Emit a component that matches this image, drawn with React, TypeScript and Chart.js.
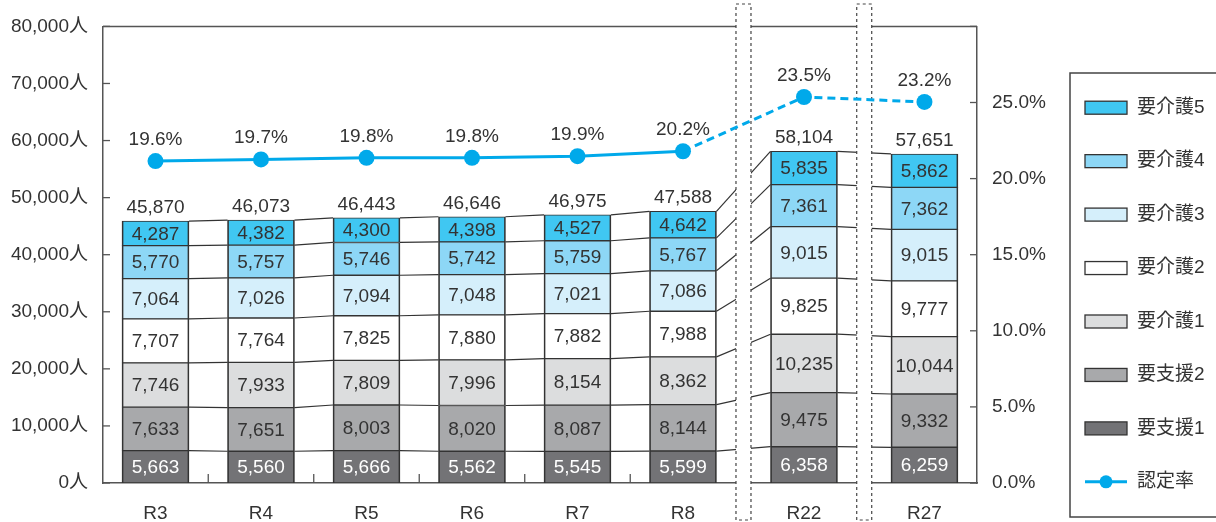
import React, { useEffect, useRef } from "react";
import { Chart, registerables } from "chart.js";

Chart.register(...registerables);

// ---- data ----
const categories = ["R3", "R4", "R5", "R6", "R7", "R8", "R22", "R27"];
const shien1 = [5663, 5560, 5666, 5562, 5545, 5599, 6358, 6259];
const shien2 = [7633, 7651, 8003, 8020, 8087, 8144, 9475, 9332];
const kaigo1 = [7746, 7933, 7809, 7996, 8154, 8362, 10235, 10044];
const kaigo2 = [7707, 7764, 7825, 7880, 7882, 7988, 9825, 9777];
const kaigo3 = [7064, 7026, 7094, 7048, 7021, 7086, 9015, 9015];
const kaigo4 = [5770, 5757, 5746, 5742, 5759, 5767, 7361, 7362];
const kaigo5 = [4287, 4382, 4300, 4398, 4527, 4642, 5835, 5862];
const totals = [45870, 46073, 46443, 46646, 46975, 47588, 58104, 57651];
const rate = [19.6, 19.7, 19.8, 19.8, 19.9, 20.2, 23.5, 23.2];
const leftTicks = [0, 10000, 20000, 30000, 40000, 50000, 60000, 70000, 80000];
const rightTicks = [0, 5, 10, 15, 20, 25, 30];

// ---- layout (slot positions on the x scale; gaps at the axis breaks) ----
const xSlots = [0, 1, 2, 3, 4, 5, 6.147, 7.289];
const breakAfter = [5, 6];

const FONT = "'Liberation Sans', 'Noto Sans CJK JP', sans-serif";
const TEXT = "#333333";
const LINE_COLOR = "#00A9EA";

const series = [
  { label: "要支援1", data: shien1, color: "#737376", text: "#ffffff" },
  { label: "要支援2", data: shien2, color: "#A8A9AB", text: TEXT },
  { label: "要介護1", data: kaigo1, color: "#DCDDDE", text: TEXT },
  { label: "要介護2", data: kaigo2, color: "#FFFFFF", text: TEXT },
  { label: "要介護3", data: kaigo3, color: "#D5EFFB", text: TEXT },
  { label: "要介護4", data: kaigo4, color: "#8DD7F6", text: TEXT },
  { label: "要介護5", data: kaigo5, color: "#40C7F2", text: TEXT },
];

const fmt = (v: number) => v.toLocaleString("en-US");

const decorPlugin = {
  id: "decor",
  beforeDatasetsDraw(chart: any) {
    const { ctx, chartArea: a } = chart;
    const yS = chart.scales.y;
    const y1S = chart.scales.y1;
    const xS = chart.scales.x;
    ctx.save();
    // top frame line
    ctx.strokeStyle = "#555";
    ctx.lineWidth = 1.5;
    ctx.beginPath();
    ctx.moveTo(a.left, a.top);
    ctx.lineTo(a.right, a.top);
    ctx.stroke();
    // inward ticks
    ctx.lineWidth = 1.3;
    leftTicks.forEach((v) => {
      const y = yS.getPixelForValue(v);
      ctx.beginPath();
      ctx.moveTo(a.left, y);
      ctx.lineTo(a.left + 7, y);
      ctx.stroke();
    });
    rightTicks.forEach((v) => {
      const y = y1S.getPixelForValue(v);
      ctx.beginPath();
      ctx.moveTo(a.right - 7, y);
      ctx.lineTo(a.right, y);
      ctx.stroke();
    });
    for (let i = 0; i < xSlots.length - 1; i++) {
      const x = (xS.getPixelForValue(xSlots[i]) + xS.getPixelForValue(xSlots[i + 1])) / 2;
      ctx.beginPath();
      ctx.moveTo(x, a.bottom);
      ctx.lineTo(x, a.bottom - 9);
      ctx.stroke();
    }
    // connecting lines between bars
    ctx.strokeStyle = "#333";
    ctx.lineWidth = 1.2;
    series.forEach((_, d) => {
      const els = chart.getDatasetMeta(d).data;
      for (let i = 0; i < els.length - 1; i++) {
        const e0 = els[i];
        const e1 = els[i + 1];
        ctx.beginPath();
        ctx.moveTo(e0.x + e0.width / 2, e0.y);
        ctx.lineTo(e1.x - e1.width / 2, e1.y);
        ctx.stroke();
      }
    });
    // axis break boxes
    breakAfter.forEach((i) => {
      const x = (xS.getPixelForValue(xSlots[i]) + xS.getPixelForValue(xSlots[i + 1])) / 2;
      const w = 15;
      ctx.fillStyle = "#ffffff";
      ctx.fillRect(x - w / 2, 4, w, 516);
      ctx.setLineDash([3, 3]);
      ctx.strokeStyle = "#444";
      ctx.lineWidth = 1.2;
      ctx.strokeRect(x - w / 2, 4, w, 516);
      ctx.setLineDash([]);
    });
    ctx.restore();
  },
  afterDatasetsDraw(chart: any) {
    const { ctx } = chart;
    ctx.save();
    ctx.font = `19px ${FONT}`;
    ctx.textAlign = "center";
    // segment labels
    series.forEach((s, d) => {
      const els = chart.getDatasetMeta(d).data;
      els.forEach((e: any, i: number) => {
        ctx.fillStyle = s.text;
        ctx.textBaseline = "middle";
        ctx.fillText(fmt(s.data[i]), e.x, (e.y + e.base) / 2 + 1);
      });
    });
    // totals
    const topEls = chart.getDatasetMeta(series.length - 1).data;
    ctx.fillStyle = TEXT;
    ctx.textBaseline = "alphabetic";
    topEls.forEach((e: any, i: number) => {
      ctx.fillText(fmt(totals[i]), e.x, e.y - 8);
    });
    // rate labels
    const pts = chart.getDatasetMeta(series.length).data;
    pts.forEach((p: any, i: number) => {
      ctx.fillText(rate[i].toFixed(1) + "%", p.x, p.y - 16);
    });
    ctx.restore();
  },
  afterDraw(chart: any) {
    const { ctx } = chart;
    ctx.save();
    // legend frame
    ctx.strokeStyle = "#444";
    ctx.lineWidth = 1.5;
    ctx.strokeRect(1070, 73, 170, 444);
    const items = [...series].reverse();
    const y0 = 107.7;
    const step = 53.45;
    ctx.font = `19px ${FONT}`;
    ctx.textBaseline = "middle";
    ctx.textAlign = "left";
    items.forEach((s, i) => {
      const y = y0 + i * step;
      ctx.fillStyle = s.color;
      ctx.fillRect(1085, y - 6.5, 42, 13);
      ctx.strokeStyle = "#333";
      ctx.lineWidth = 1.3;
      ctx.strokeRect(1085, y - 6.5, 42, 13);
      ctx.fillStyle = TEXT;
      ctx.fillText(s.label, 1137, y);
    });
    const yl = y0 + items.length * step;
    ctx.strokeStyle = LINE_COLOR;
    ctx.lineWidth = 3;
    ctx.beginPath();
    ctx.moveTo(1085, yl);
    ctx.lineTo(1127, yl);
    ctx.stroke();
    ctx.fillStyle = LINE_COLOR;
    ctx.beginPath();
    ctx.arc(1106, yl, 6.5, 0, Math.PI * 2);
    ctx.fill();
    ctx.fillStyle = TEXT;
    ctx.fillText("認定率", 1137, yl);
    ctx.restore();
  },
};

export default function App() {
  const ref = useRef<HTMLCanvasElement | null>(null);
  useEffect(() => {
    document.body.style.margin = "0";
    if (!ref.current) return;
    const barSets = series.map((s) => ({
      type: "bar" as const,
      label: s.label,
      data: categories.map((_, i) => ({ x: xSlots[i], y: s.data[i] })),
      backgroundColor: s.color,
      borderColor: "#333333",
      borderWidth: { left: 1.7, right: 1.7, top: 1, bottom: 1 },
      borderSkipped: false,
      barThickness: 67,
      yAxisID: "y",
      order: 1,
    }));
    const lineSet = {
      type: "line" as const,
      label: "認定率",
      data: categories.map((_, i) => ({ x: xSlots[i], y: rate[i] })),
      borderColor: LINE_COLOR,
      backgroundColor: LINE_COLOR,
      borderWidth: 3,
      pointRadius: 8,
      pointBorderWidth: 0,
      pointBackgroundColor: LINE_COLOR,
      yAxisID: "y2",
      order: 0,
      segment: {
        borderDash: (c: any) => (c.p0DataIndex >= 5 ? [8, 5] : undefined),
      },
    };
    const chart = new Chart(ref.current, {
      data: { datasets: [...barSets, lineSet] as any },
      options: {
        animation: false,
        responsive: false,
        devicePixelRatio: 1,
        layout: { padding: { top: 23, left: 0, right: 0, bottom: 0 } },
        plugins: { legend: { display: false }, tooltip: { enabled: false } },
        scales: {
          x: {
            type: "linear",
            stacked: true,
            offset: false,
            min: -0.4976,
            max: 7.787,
            grid: { display: false, drawTicks: false },
            border: { display: true, color: "#555", width: 1.5 },
            afterBuildTicks: (s: any) => {
              s.ticks = xSlots.map((v) => ({ value: v }));
            },
            afterFit: (s: any) => {
              s.height = 39;
            },
            ticks: {
              autoSkip: false,
              maxRotation: 0,
              padding: 19,
              color: TEXT,
              font: { family: FONT, size: 19 },
              callback: (_v: any, i: number) => categories[i],
            },
          },
          y: {
            type: "linear",
            position: "left",
            stacked: true,
            min: 0,
            max: 80000,
            grid: { display: false, drawTicks: false },
            border: { display: true, color: "#555", width: 1.5 },
            afterBuildTicks: (s: any) => {
              s.ticks = leftTicks.map((v) => ({ value: v }));
            },
            afterFit: (s: any) => {
              s.width = 103;
            },
            ticks: {
              padding: 15,
              color: TEXT,
              font: { family: FONT, size: 19 },
              callback: (v: any) => fmt(Number(v)) + "人",
            },
          },
          y1: {
            type: "linear",
            position: "right",
            min: 0,
            max: 30,
            grid: { display: false, drawTicks: false },
            border: { display: true, color: "#555", width: 1.5 },
            afterBuildTicks: (s: any) => {
              s.ticks = rightTicks.map((v) => ({ value: v }));
            },
            afterFit: (s: any) => {
              s.width = 239;
            },
            ticks: {
              padding: 15,
              color: TEXT,
              font: { family: FONT, size: 19 },
              callback: (v: any) => (Number(v) >= 30 ? "" : Number(v).toFixed(1) + "%"),
            },
          },
          y2: {
            type: "linear",
            display: false,
            min: 0,
            max: 27.8,
          },
        },
      },
      plugins: [decorPlugin],
    });
    return () => chart.destroy();
  }, []);
  return (
    <div style={{ position: "absolute", left: 0, top: 0, width: 1216, height: 522 }}>
      <canvas ref={ref} width={1216} height={522} />
    </div>
  );
}
